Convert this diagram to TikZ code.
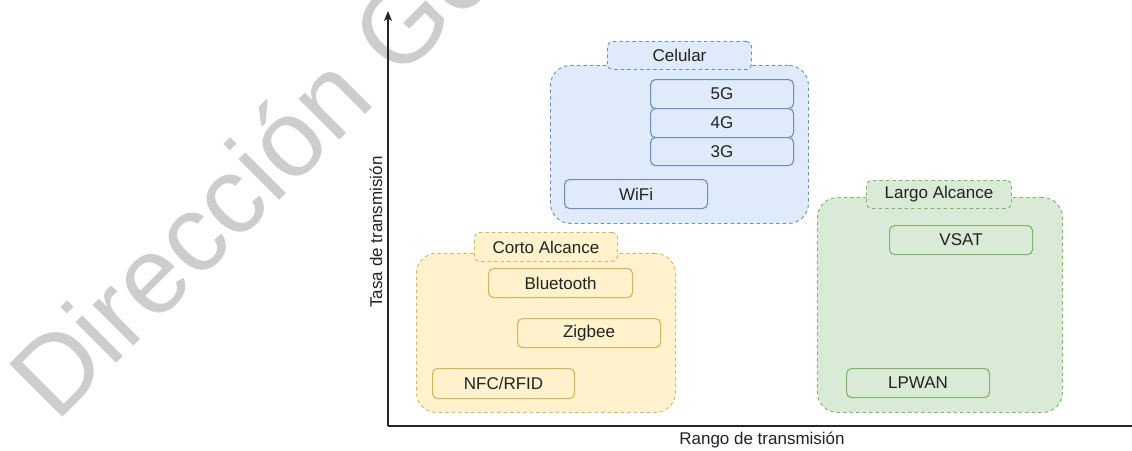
\documentclass[tikz,border=0pt]{standalone}
\usepackage{fontspec}
\setmainfont{Liberation Sans}
\usetikzlibrary{arrows.meta}

\definecolor{bluefill}{HTML}{DFEAFB}
\definecolor{bluedraw}{HTML}{6C8EBF}
\definecolor{yellowfill}{HTML}{FFF2CC}
\definecolor{yellowdraw}{HTML}{D6B656}
\definecolor{greenfill}{HTML}{D9EAD7}
\definecolor{greendraw}{HTML}{82B366}
\definecolor{wmgray}{RGB}{205,205,205}
\definecolor{inkcol}{HTML}{222222}

\tikzset{
  lbl/.style={font=\fontsize{17}{17}\selectfont, text=inkcol},
  group/.style={draw=#1draw, fill=#1fill, dash pattern=on 3.5pt off 3pt,
    line width=0.9pt, rounded corners=20pt, anchor=north west, inner sep=0pt},
  tab/.style={draw=#1draw, fill=#1fill, dash pattern=on 3.5pt off 3pt,
    line width=0.9pt, rounded corners=5pt, anchor=north west, inner sep=0pt, lbl},
  item/.style={draw=#1draw, fill=#1fill, line width=1.1pt,
    rounded corners=5pt, anchor=north west, inner sep=0pt, lbl},
  axis/.style={draw=black!85, line width=1.3pt},
  % box of given size in pixels: width, height
  boxsize/.style 2 args={minimum width=#1pt, minimum height=#2pt},
}

\begin{document}
\begin{tikzpicture}[x=1pt,y=-1pt]
\useasboundingbox (0,0) rectangle (1132,450);

% watermark
\begin{scope}
  \clip (0,0) rectangle (1132,450);
  \node[rotate=45, anchor=base west, inner sep=0pt, text=wmgray,
        font=\fontsize{109}{109}\selectfont] (wm) at (56,424) {Dirección General};
\end{scope}

% axes
\coordinate (origin) at (388,426);
\coordinate (ytop) at (388,11);
\coordinate (xend) at (1132,426);
\draw[axis, -{Stealth[length=10pt,width=8pt,inset=2.5pt]}] (origin) -- (ytop);
\draw[axis] (origin) -- (xend);
\node[lbl, rotate=90] (ylab) at (376,232) {Tasa de transmisión};
\node[lbl] (xlab) at (762,440) {Rango de transmisión};

% Celular
\node[group=blue, boxsize={258}{158}] (cel) at (550,65) {};
\node[tab=blue, boxsize={144}{28}] (celt) at (607,41) {Celular};
\node[item=blue, boxsize={143}{29}] (g5) at (650,79) {5G};
\node[item=blue, boxsize={143}{29}] (g4) at (650,108) {4G};
\node[item=blue, boxsize={143}{28}] (g3) at (650,137) {3G};
\node[item=blue, boxsize={143}{29}] (wifi) at (564,179) {WiFi};

% Corto Alcance
\node[group=yellow, boxsize={259}{159}] (corto) at (416,253) {};
\node[tab=yellow, boxsize={143}{29}] (cortot) at (474,232) {Corto Alcance};
\node[item=yellow, boxsize={144}{29}] (bt) at (488,268) {Bluetooth};
\node[item=yellow, boxsize={143}{29}] (zb) at (517,318) {Zigbee};
\node[item=yellow, boxsize={142}{30}] (nfc) at (432,368) {NFC/RFID};

% Largo Alcance
\node[group=green, boxsize={245}{215}] (largo) at (817,197) {};
\node[tab=green, boxsize={145}{28}] (largot) at (866,180) {Largo Alcance};
\node[item=green, boxsize={143}{29}] (vsat) at (889,225) {VSAT};
\node[item=green, boxsize={143}{29}] (lpwan) at (846,368) {LPWAN};
\end{tikzpicture}
\end{document}
